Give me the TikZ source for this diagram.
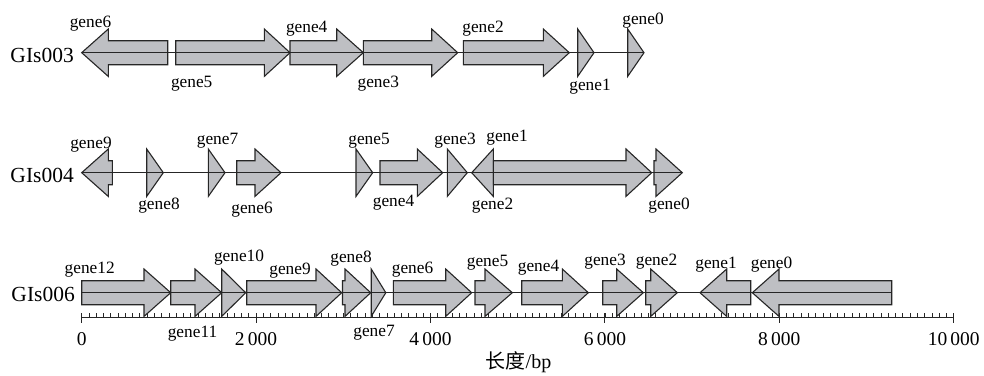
\documentclass[tikz,border=0pt]{standalone}
\usepackage{fontspec}
\setmainfont{Liberation Serif}
\newfontfamily\cjkfont{Noto Sans CJK SC}
\definecolor{genefill}{RGB}{190,191,195}
\definecolor{geneline}{RGB}{38,38,38}
\tikzset{
  genebox/.style={draw=geneline, fill=genefill, line width=1.1pt, line join=miter},
  backbone/.style={draw=geneline, line width=1.1pt},
  axisline/.style={draw=geneline, line width=1.0pt},
  glab/.style={anchor=base, inner sep=0pt, font=\fontsize{17.3}{19}\selectfont},
  trackname/.style={anchor=base east, inner sep=0pt, font=\fontsize{21.5}{24}\selectfont},
  numlab/.style={anchor=base, inner sep=0pt, font=\fontsize{19.5}{22}\selectfont},
}
% right-pointing gene: left end, head base, tip, centre y
\newcommand\rgene[4]{%
  \draw[genebox] (#1,#4-12) -- (#2,#4-12) -- (#2,#4-23.7) -- (#3,#4)
    -- (#2,#4+23.7) -- (#2,#4+12) -- (#1,#4+12) -- cycle;}
% left-pointing gene: tip, head base, right end, centre y
\newcommand\lgene[4]{%
  \draw[genebox] (#3,#4-12) -- (#2,#4-12) -- (#2,#4-23.7) -- (#1,#4)
    -- (#2,#4+23.7) -- (#2,#4+12) -- (#3,#4+12) -- cycle;}
\begin{document}
\begin{tikzpicture}[x=1pt,y=-1pt]
\useasboundingbox (0,0) rectangle (984,375);

% ---------------- GIs003 ----------------
\lgene{81.7}{108.3}{167.7}{52.7}
\rgene{175.7}{264.3}{290}{52.7}
\rgene{290}{336.7}{363.3}{52.7}
\rgene{363.3}{431.7}{457.7}{52.7}
\rgene{463.3}{543.3}{569.3}{52.7}
\rgene{577.7}{577.7}{594}{52.7}
\rgene{627.7}{627.7}{644}{52.7}
\coordinate (a3s) at (81.7,52.7);
\coordinate (a3e) at (644,52.7);
\draw[backbone] (a3s) -- (a3e);
\node[trackname] (n3) at (74,62) {GIs003};
\node[glab] (t3g6) at (90.5,27.3) {gene6};
\node[glab] (t3g5) at (191.7,87) {gene5};
\node[glab] (t3g4) at (306.7,32) {gene4};
\node[glab] (t3g3) at (378.3,87) {gene3};
\node[glab] (t3g2) at (483,32) {gene2};
\node[glab] (t3g1) at (590,90.6) {gene1};
\node[glab] (t3g0) at (643,24.8) {gene0};

% ---------------- GIs004 ----------------
\lgene{81.7}{108.3}{112.3}{172.7}
\rgene{146.7}{146.7}{163.3}{172.7}
\rgene{208.3}{208.3}{225}{172.7}
\rgene{236.7}{255}{281}{172.7}
\rgene{356}{356}{372.7}{172.7}
\rgene{380}{417.3}{442.7}{172.7}
\rgene{447.3}{447.3}{467.3}{172.7}
\lgene{471.7}{493.3}{493.3}{172.7}
\rgene{493.3}{626}{651.7}{172.7}
\rgene{654}{656}{682.3}{172.7}
\coordinate (a4s) at (81.7,172.7);
\coordinate (a4e) at (682.3,172.7);
\draw[backbone] (a4s) -- (a4e);
\node[trackname] (n4) at (74,182) {GIs004};
\node[glab] (t4g9) at (91,148.2) {gene9};
\node[glab] (t4g8) at (159,209.8) {gene8};
\node[glab] (t4g7) at (217.5,144.8) {gene7};
\node[glab] (t4g6) at (252,213) {gene6};
\node[glab] (t4g5) at (369,144) {gene5};
\node[glab] (t4g4) at (393.5,206.5) {gene4};
\node[glab] (t4g3) at (455,144) {gene3};
\node[glab] (t4g2) at (492.5,209) {gene2};
\node[glab] (t4g1) at (507,141.5) {gene1};
\node[glab] (t4g0) at (669,209) {gene0};

% ---------------- GIs006 ----------------
\rgene{81.7}{144}{170.7}{292.7}
\rgene{170.7}{195}{221.7}{292.7}
\rgene{221.7}{221.7}{245.7}{292.7}
\rgene{246.7}{316}{341.7}{292.7}
\rgene{342.5}{345}{370.7}{292.7}
\rgene{371.2}{371.2}{385.8}{292.7}
\rgene{393.3}{445.7}{471.7}{292.7}
\rgene{475}{485}{512.3}{292.7}
\rgene{521.7}{562.3}{588.3}{292.7}
\rgene{602.7}{616.7}{643.3}{292.7}
\rgene{645.7}{650.7}{677.3}{292.7}
\lgene{700}{726.7}{750.7}{292.7}
\lgene{752.3}{779}{891.7}{292.7}
\coordinate (a6s) at (81.7,292.7);
\coordinate (a6e) at (891.7,292.7);
\draw[backbone] (a6s) -- (a6e);
\node[trackname] (n6) at (75,301.7) {GIs006};
\node[glab] (t6g12) at (89.7,273) {gene12};
\node[glab] (t6g11) at (192.5,337.5) {gene11};
\node[glab] (t6g10) at (239,261.5) {gene10};
\node[glab] (t6g9) at (290,274.6) {gene9};
\node[glab] (t6g8) at (351,262) {gene8};
\node[glab] (t6g7) at (374,336.4) {gene7};
\node[glab] (t6g6) at (412.5,273) {gene6};
\node[glab] (t6g5) at (487.5,266.4) {gene5};
\node[glab] (t6g4) at (538.5,271.4) {gene4};
\node[glab] (t6g3) at (605,265.5) {gene3};
\node[glab] (t6g2) at (656.5,265.5) {gene2};
\node[glab] (t6g1) at (716,268) {gene1};
\node[glab] (t6g0) at (771.5,268) {gene0};

% ---------------- axis ----------------
\coordinate (ax0) at (81.7,317.3);
\coordinate (ax1) at (953.7,317.3);
\draw[axisline] (ax0) -- (ax1);
\foreach \i in {0,...,120}{
  \pgfmathsetmacro\xx{81.7+\i*7.2667}
  \draw[axisline, line width=0.8pt] (\xx,313.3) -- (\xx,317.3);
}
\foreach \v/\lab in {0/0, 2000/2\,000, 4000/4\,000, 6000/6\,000, 8000/8\,000, 10000/10\,000}{
  \pgfmathsetmacro\xx{81.7+\v*0.0872}
  \draw[axisline] (\xx,313.3) -- (\xx,323.3);
  \node[numlab] (lab\v) at (\xx,345.5) {\lab};
}
\node[anchor=base, inner sep=0pt, font=\fontsize{20}{22}\selectfont] (xtitle) at (518.5,368.5) {{\cjkfont 长度}/bp};
\end{tikzpicture}
\end{document}
